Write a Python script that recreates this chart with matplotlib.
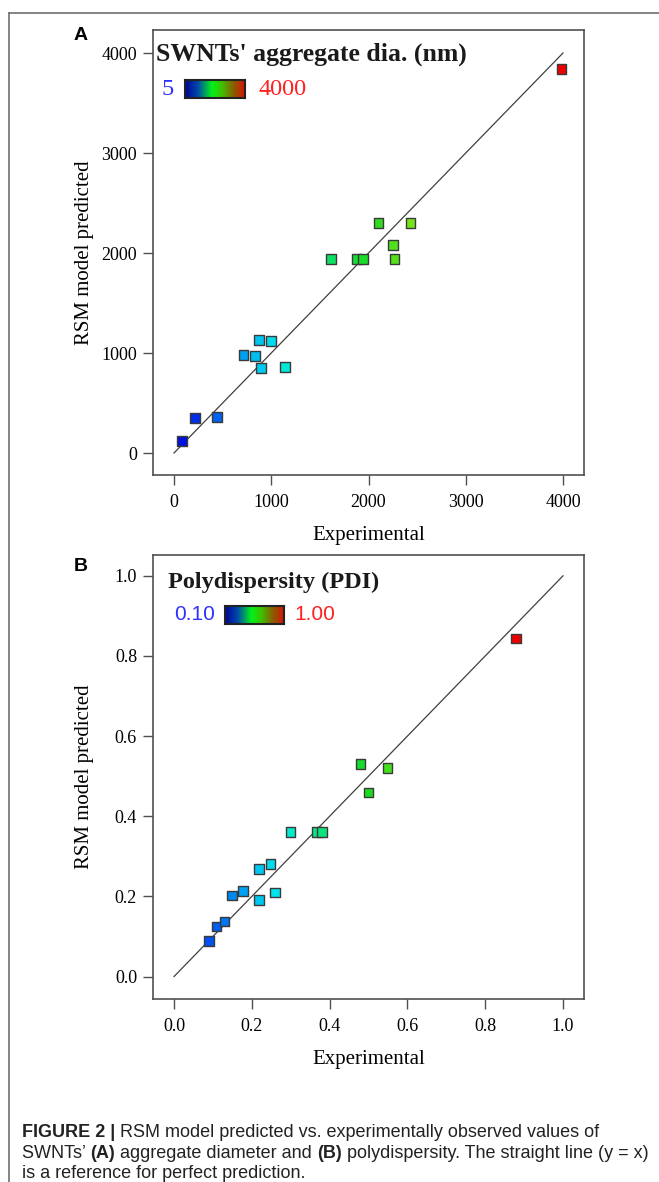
import matplotlib
matplotlib.use("Agg")
import matplotlib.pyplot as plt
import numpy as np
from matplotlib.colors import LinearSegmentedColormap, Normalize
from matplotlib.lines import Line2D

# ---- data ----
a_exp = [3986, 2103, 2433, 2252, 1617, 1883, 1943, 2266,
         872, 996, 713, 830, 894, 1142, 213, 443, 85]
a_pred = [3840, 2303, 2297, 2080, 1943, 1943, 1943, 1943,
          1133, 1123, 980, 970, 847, 863, 353, 363, 120]

b_exp = [0.879, 0.479, 0.549, 0.500, 0.299, 0.367, 0.380,
         0.219, 0.248, 0.149, 0.178, 0.219, 0.259, 0.109, 0.130, 0.090]
b_pred = [0.844, 0.531, 0.520, 0.459, 0.361, 0.361, 0.361,
          0.269, 0.281, 0.2025, 0.213, 0.191, 0.210, 0.125, 0.137, 0.088]

a_ticks = [0, 1000, 2000, 3000, 4000]
a_ticklabels = ["0", "1000", "2000", "3000", "4000"]
b_ticks = [0.0, 0.2, 0.4, 0.6, 0.8, 1.0]
b_ticklabels = ["0.0", "0.2", "0.4", "0.6", "0.8", "1.0"]

caption = [
	[("FIGURE 2 | ", "bold"), ("RSM model predicted vs. experimentally observed values of", "normal")],
	[("SWNTs\u2019 ", "normal"), ("(A)", "bold"), (" aggregate diameter and ", "normal"), ("(B)", "bold"),
	 (" polydispersity. The straight line (y = x)", "normal")],
	[("is a reference for perfect prediction.", "normal")],
]

# point colours (design-expert style), and the legend gradient
point_cmap = LinearSegmentedColormap.from_list("pts", [
	(0.00, (0.00, 0.00, 0.86)),
	(0.10, (0.00, 0.35, 0.94)),
	(0.20, (0.00, 0.72, 0.94)),
	(0.26, (0.00, 0.90, 0.93)),
	(0.32, (0.00, 0.93, 0.72)),
	(0.40, (0.05, 0.88, 0.40)),
	(0.50, (0.10, 0.86, 0.12)),
	(0.62, (0.50, 0.90, 0.10)),
	(0.74, (0.90, 0.55, 0.00)),
	(0.85, (0.92, 0.00, 0.00)),
	(1.00, (0.92, 0.00, 0.00))])
bar_cmap = LinearSegmentedColormap.from_list("bar", [
	(0.00, (0.00, 0.00, 0.60)),
	(0.22, (0.00, 0.30, 0.65)),
	(0.45, (0.00, 0.95, 0.10)),
	(0.62, (0.25, 0.75, 0.00)),
	(0.82, (0.55, 0.35, 0.00)),
	(1.00, (0.85, 0.08, 0.00))])

serif = ["Liberation Serif", "DejaVu Serif"]
sans = ["Liberation Sans", "DejaVu Sans"]
edge = "#505050"
W, H = 659, 1182

fig = plt.figure(figsize=(W / 100, H / 100), dpi=100)
grad = np.linspace(0, 1, 256).reshape(1, -1)

def panel(rect, xs, ys, lim, ylim, ticks, ticklabels, title, title_pos, title_size,
		lo, hi, num_font, num_size, lo_x, bar_box, hi_x):
	ax = fig.add_axes(rect)
	span = lim[1] - lim[0]
	ax.set_xlim(lim[0] - 0.054 * span, lim[1] + 0.054 * span)
	ax.set_ylim(*ylim)
	# y = x reference line
	ax.plot(lim, lim, color="#404040", lw=0.9, zorder=1)
	cols = point_cmap(Normalize(lim[0], lim[1])(np.array(xs)))
	ax.scatter(xs, ys, s=48, marker="s", c=cols, edgecolors="#3a3a3a", linewidths=1.0, zorder=3)
	ax.set_xticks(ticks)
	ax.set_yticks(ticks)
	ax.set_xticklabels(ticklabels, fontfamily=serif, fontsize=13)
	ax.set_yticklabels(ticklabels, fontfamily=serif, fontsize=13)
	ax.tick_params(direction="out", length=7.5, width=1.0, color=edge, pad=4)
	ax.tick_params(axis="x", pad=6)
	for s in ax.spines.values():
		s.set_color(edge)
		s.set_linewidth(1.2)
	ax.set_xlabel("Experimental", fontfamily=serif, fontsize=15, labelpad=11)
	ax.set_ylabel("RSM model predicted", fontfamily=serif, fontsize=15)
	ax.yaxis.set_label_coords(-0.137, 0.5)
	ax.text(title_pos[0], title_pos[1], title, transform=ax.transAxes, fontfamily=serif, fontsize=title_size,
		fontweight="bold", ha="left", va="center", color="#1a1a1a")
	# colour legend
	ymid = bar_box[1] + bar_box[3] / 2
	ax.text(lo_x, ymid, lo, transform=ax.transAxes, family=num_font, fontsize=num_size,
		ha="left", va="center", color="#3030ff")
	cax = ax.inset_axes(bar_box)
	cax.imshow(grad, aspect="auto", cmap=bar_cmap, extent=[0, 1, 0, 1])
	cax.set_xticks([])
	cax.set_yticks([])
	for s in cax.spines.values():
		s.set_color("#222222")
		s.set_linewidth(1.5)
	ax.text(hi_x, ymid, hi, transform=ax.transAxes, family=num_font, fontsize=num_size,
		ha="left", va="center", color="#ff2020")
	return ax

axA = panel([153 / W, 1 - 475 / H, 431 / W, 445 / H], a_exp, a_pred, [0, 4000], (-220, 4230),
	a_ticks, a_ticklabels, "SWNTs' aggregate dia. (nm)", (0.008, 0.946), 18.5,
	"5", "4000", serif, 17.5, 0.020, [0.075, 0.847, 0.139, 0.040], 0.245)
axB = panel([153 / W, 1 - 999 / H, 431 / W, 444 / H], b_exp, b_pred, [0.0, 1.0], (-0.056, 1.052),
	b_ticks, b_ticklabels, "Polydispersity (PDI)", (0.034, 0.939), 17.5,
	"0.10", "1.00", sans, 15, 0.048, [0.168, 0.845, 0.136, 0.0405], 0.329)

# panel letters
fig.text(81 / W, 1 - 35 / H, "A", family=sans, fontsize=14, fontweight="bold", ha="center", va="center")
fig.text(81 / W, 1 - 567 / H, "B", family=sans, fontsize=14, fontweight="bold", ha="center", va="center")

# outer frame (top and left)
fig.add_artist(Line2D([9 / W, 1], [1 - 13 / H] * 2, color="#707070", lw=1.2))
fig.add_artist(Line2D([9 / W] * 2, [0, 1 - 13 / H], color="#707070", lw=1.2))

# caption, laid out piece by piece so the bold parts sit inline
renderer = fig.canvas.get_renderer()
for row, y in zip(caption, [1137, 1158, 1178]):
	x = 22.0
	for txt, weight in row:
		t = fig.text(x / W, 1 - y / H, txt, family=sans, fontsize=13, fontweight=weight,
			ha="left", va="baseline", color="#222222")
		x += t.get_window_extent(renderer).width

fig.savefig("out.png", dpi=100)
